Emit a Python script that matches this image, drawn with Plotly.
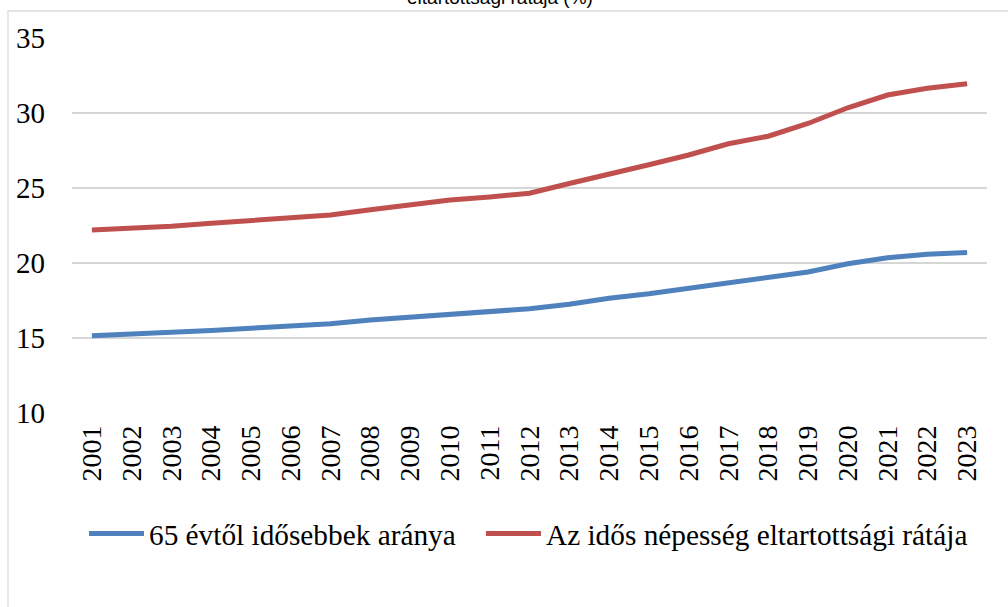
import plotly.graph_objects as go

years = [str(y) for y in range(2001, 2024)]
share_65plus = [15.15, 15.25, 15.4, 15.5, 15.65, 15.8, 15.95, 16.2, 16.4, 16.6, 16.8, 16.95,
                17.25, 17.65, 17.95, 18.3, 18.65, 18.98, 19.4, 19.95, 20.35, 20.58, 20.7]
dependency_ratio = [22.2, 22.3, 22.45, 22.65, 22.85, 23.0, 23.2, 23.55, 23.85, 24.2, 24.4, 24.65,
                    25.3, 25.9, 26.55, 27.2, 27.95, 28.45, 29.3, 30.35, 31.2, 31.65, 31.95]
series_names = ["65 évtől idősebbek aránya", "Az idős népesség eltartottsági rátája"]
title_text = "eltartottsági rátája (%)"
y_ticks = [10, 15, 20, 25, 30, 35]

W, H = 1008, 607
L, R, T, B = 72, 21, 38, 194
pw, ph = W - L - R, H - T - B

def px_x(p):
    return (p - L) / pw

def px_y(p):
    return (H - B - p) / ph

serif = "Liberation Serif"

fig = go.Figure()
fig.add_trace(go.Scatter(x=years, y=share_65plus, mode="lines", name=series_names[0],
                         line=dict(color="#4F81BD", width=5), legend="legend"))
fig.add_trace(go.Scatter(x=years, y=dependency_ratio, mode="lines", name=series_names[1],
                         line=dict(color="#C0504D", width=5), legend="legend2"))

legend_common = dict(orientation="h", y=px_y(534), xanchor="left", yanchor="middle",
                     font=dict(family=serif, size=29.3, color="black"),
                     bgcolor="rgba(0,0,0,0)", itemwidth=55)

fig.update_layout(
    width=W, height=H,
    margin=dict(l=L, r=R, t=T, b=B),
    paper_bgcolor="white", plot_bgcolor="white",
    font=dict(family=serif, size=28, color="black"),
    showlegend=True,
    legend=dict(x=px_x(84), **legend_common),
    legend2=dict(x=px_x(481), **legend_common),
    xaxis=dict(type="category", range=[-0.5, len(years) - 0.5], showgrid=False, zeroline=False,
               showline=False, tickangle=-90, ticks="", ticklabelstandoff=6,
               tickfont=dict(family=serif, size=28, color="black")),
    yaxis=dict(range=[10, 35], tickvals=y_ticks, showgrid=True, gridcolor="#D6D6D6",
               gridwidth=1.6, zeroline=False, showline=False, ticks="",
               ticklabelstandoff=26,
               tickfont=dict(family=serif, size=29, color="black")),
    shapes=[dict(type="rect", xref="paper", yref="paper",
                 x0=px_x(8), x1=px_x(1030), y0=px_y(640), y1=px_y(11),
                 line=dict(color="#D9D9D9", width=1.3), fillcolor="rgba(0,0,0,0)", layer="below")],
    annotations=[dict(text=title_text, xref="paper", yref="paper", x=px_x(500), y=px_y(-3),
                      xanchor="center", yanchor="middle", showarrow=False,
                      font=dict(family="Liberation Sans, Arial, sans-serif", size=19, color="black"))],
)

fig.write_html("out.html", config={"displayModeBar": False},
               post_script="document.body.style.margin='0px';")
